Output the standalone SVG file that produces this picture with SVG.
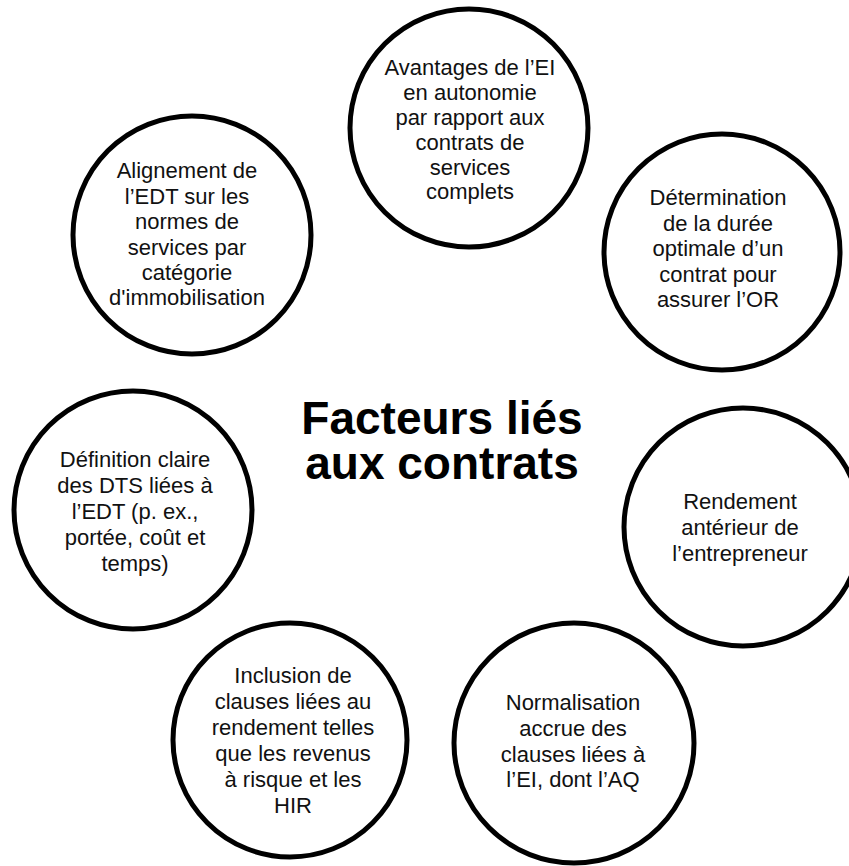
<svg xmlns="http://www.w3.org/2000/svg" width="849" height="866" viewBox="0 0 849 866">
<style>
.c{fill:#fff;stroke:#000;stroke-width:5}
.t{font-family:"Liberation Sans",Arial,sans-serif;font-size:22px;fill:#111;text-anchor:middle}
.h{font-family:"Liberation Sans",Arial,sans-serif;font-size:46px;font-weight:bold;fill:#000;text-anchor:middle}
</style>
<rect width="849" height="866" fill="#fff"/>
<g id="connectors"></g>
<g id="title">
<text class="h"><tspan x="442" y="434">Facteurs liés</tspan><tspan x="442" y="479">aux contrats</tspan></text>
</g>
<g id="n1">
<circle class="c" cx="469" cy="128" r="119"/>
<text class="t" x="470" y="75">Avantages de l’EI</text>
<text class="t" x="470" y="100">en autonomie</text>
<text class="t" x="470" y="125">par rapport aux</text>
<text class="t" x="470" y="150">contrats de</text>
<text class="t" x="470" y="175">services</text>
<text class="t" x="470" y="199">complets</text>
</g>
<g id="n2">
<circle class="c" cx="722" cy="252" r="118"/>
<text class="t" x="718" y="205">Détermination</text>
<text class="t" x="718" y="231">de la durée</text>
<text class="t" x="718" y="256">optimale d’un</text>
<text class="t" x="718" y="282">contrat pour</text>
<text class="t" x="718" y="307">assurer l’OR</text>
</g>
<g id="n3">
<circle class="c" cx="743" cy="527" r="119"/>
<text class="t" x="740" y="509">Rendement</text>
<text class="t" x="740" y="535">antérieur de</text>
<text class="t" x="740" y="561">l’entrepreneur</text>
</g>
<g id="n4">
<circle class="c" cx="574" cy="743" r="120"/>
<text class="t" x="573" y="710">Normalisation</text>
<text class="t" x="573" y="736">accrue des</text>
<text class="t" x="573" y="762">clauses liées à</text>
<text class="t" x="573" y="787">l’EI, dont l’AQ</text>
</g>
<g id="n5">
<circle class="c" cx="290" cy="740" r="117"/>
<text class="t" x="293" y="683">Inclusion de</text>
<text class="t" x="293" y="709">clauses liées au</text>
<text class="t" x="293" y="735">rendement telles</text>
<text class="t" x="293" y="761">que les revenus</text>
<text class="t" x="293" y="787">à risque et les</text>
<text class="t" x="293" y="813">HIR</text>
</g>
<g id="n6">
<circle class="c" cx="133" cy="510" r="119"/>
<text class="t" x="135" y="467">Définition claire</text>
<text class="t" x="135" y="493">des DTS liées à</text>
<text class="t" x="135" y="519">l’EDT (p. ex.,</text>
<text class="t" x="135" y="545">portée, coût et</text>
<text class="t" x="135" y="571">temps)</text>
</g>
<g id="n7">
<circle class="c" cx="192" cy="235" r="119"/>
<text class="t" x="187" y="178">Alignement de</text>
<text class="t" x="187" y="204">l’EDT sur les</text>
<text class="t" x="187" y="229">normes de</text>
<text class="t" x="187" y="255">services par</text>
<text class="t" x="187" y="280">catégorie</text>
<text class="t" x="187" y="305">d'immobilisation</text>
</g>
</svg>
